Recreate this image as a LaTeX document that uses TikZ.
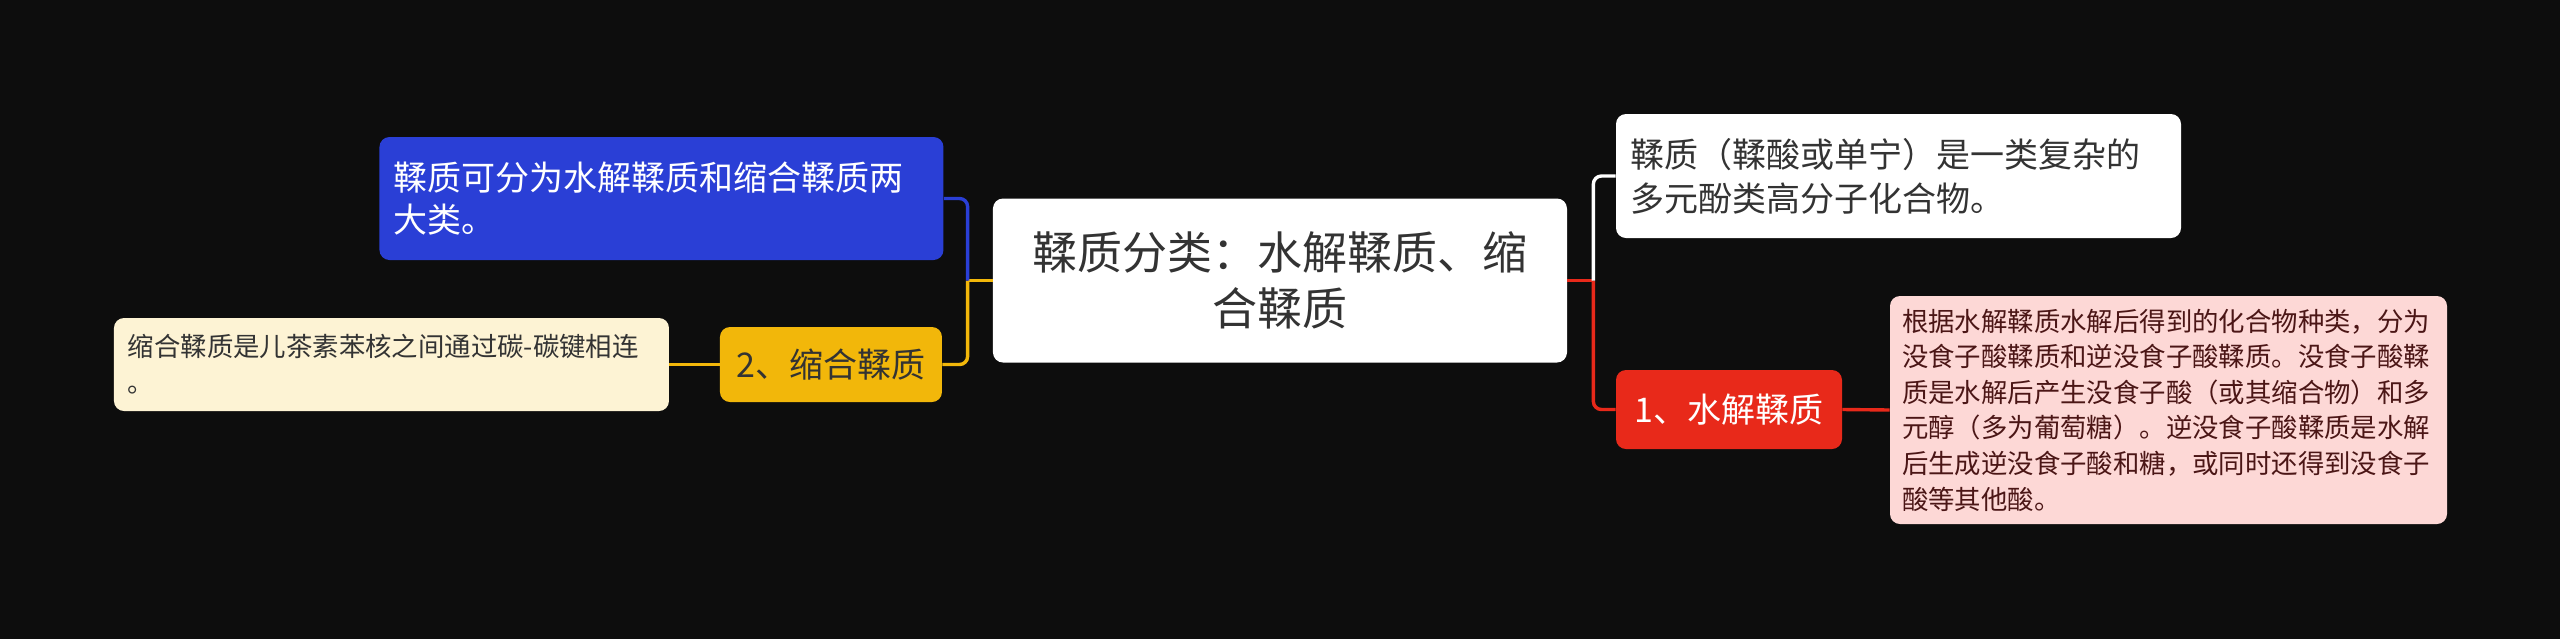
\documentclass[tikz,border=0pt]{standalone}
\usepackage{fontspec}
\setmainfont{Noto Sans CJK SC}

\definecolor{bgblack}{RGB}{13,13,13}
\definecolor{tanblue}{RGB}{42,63,214}
\definecolor{tanyellow}{RGB}{242,183,10}
\definecolor{tancream}{RGB}{253,243,212}
\definecolor{tanred}{RGB}{232,41,26}
\definecolor{tanpink}{RGB}{253,216,214}
\definecolor{darktext}{RGB}{51,51,51}
\definecolor{pinktext}{RGB}{75,22,22}

\tikzset{
  card/.style={rounded corners=5pt, inner ysep=0pt},
  rootbox/.style={card, fill=white, text=darktext, align=center, inner xsep=7pt,
    text width=273pt, minimum height=82pt,
    font=\fontsize{22.5pt}{27.75pt}\selectfont},
  bluebox/.style={card, fill=tanblue, text=white, align=left, inner xsep=7pt,
    text width=268pt, minimum height=61.5pt,
    font=\fontsize{17pt}{21pt}\selectfont},
  whitebox/.style={card, fill=white, text=darktext, align=left, inner xsep=7pt,
    text width=268.5pt, minimum height=62pt,
    font=\fontsize{17pt}{22pt}\selectfont},
  yellowbox/.style={card, fill=tanyellow, text=darktext,
    minimum width=111pt, minimum height=37.5pt,
    font=\fontsize{17pt}{21pt}\selectfont},
  redbox/.style={card, fill=tanred, text=white,
    minimum width=113pt, minimum height=39.5pt,
    font=\fontsize{17pt}{21pt}\selectfont},
  creambox/.style={card, fill=tancream, text=darktext, align=left, inner xsep=7pt,
    text width=263.5pt, minimum height=46.5pt,
    font=\fontsize{13.2pt}{18pt}\selectfont},
  pinkbox/.style={card, fill=tanpink, text=pinktext, align=left, inner xsep=6pt,
    text width=266.5pt, minimum height=114pt,
    font=\fontsize{13.2pt}{17.8pt}\selectfont},
  link/.style={line width=1.7pt}
}

\begin{document}
\begin{tikzpicture}
  \fill[bgblack] (-640pt,-179.25pt) rectangle (640pt,140.25pt);
  \useasboundingbox (-640pt,-179.25pt) rectangle (640pt,140.25pt);

  \node[rootbox] (root) at (0,0) {鞣质分类：水解鞣质、缩\\合鞣质};

  \node[bluebox] (kinds) at (-309.25pt,41pt) {鞣质可分为水解鞣质和缩合鞣质两\\大类。};
  \node[yellowbox] (cond) at (-224.5pt,-42pt) {2、缩合鞣质};
  \node[creambox] (condnote) at (-444.25pt,-42pt) {缩合鞣质是儿茶素苯核之间通过碳-碳键相连\\。};

  \node[whitebox] (defn) at (309.25pt,52.25pt) {鞣质（鞣酸或单宁）是一类复杂的\\多元酚类高分子化合物。};
  \node[redbox] (hydro) at (224.5pt,-64.5pt) {1、水解鞣质};
  \node[pinkbox] (hydronote) at (444.25pt,-64.75pt) {根据水解鞣质水解后得到的化合物种类，分为\\没食子酸鞣质和逆没食子酸鞣质。没食子酸鞣\\质是水解后产生没食子酸（或其缩合物）和多\\元醇（多为葡萄糖）。逆没食子酸鞣质是水解\\后生成逆没食子酸和糖，或同时还得到没食子\\酸等其他酸。};

  \coordinate (lsplit) at ([xshift=-12.5pt]root.west);
  \coordinate (rsplit) at ([xshift=13pt]root.east);

  % left branches
  \draw[link, tanyellow] (root.west) -- (lsplit);
  \draw[link, tanyellow, rounded corners=4pt] (lsplit) |- (cond.east);
  \draw[link, tanblue, rounded corners=4pt] (lsplit) |- (kinds.east);
  \draw[link, tanyellow] (cond.west) -- (condnote.east);

  % right branches
  \draw[link, tanred] (root.east) -- (rsplit);
  \draw[link, tanred, rounded corners=4pt] (rsplit) |- (hydro.west);
  \draw[link, white, rounded corners=4pt] (rsplit) |- (defn.west);
  \draw[link, tanred] (hydro.east) -- (hydronote.west);
\end{tikzpicture}
\end{document}
